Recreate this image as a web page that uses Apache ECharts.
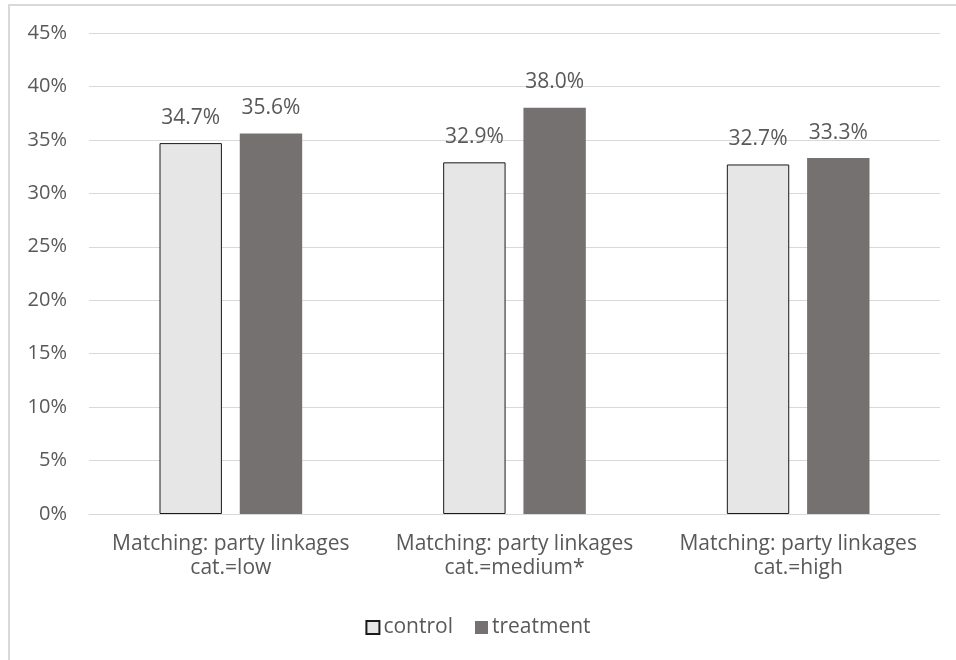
<!DOCTYPE html>
<html>
<head>
<meta charset="utf-8">
<script src="https://cdn.jsdelivr.net/npm/echarts@6/dist/echarts.min.js"></script>
<style>
  html, body { margin: 0; padding: 0; background: #fff; }
  #frame { position: absolute; left: 8px; top: 4px; width: 960px; height: 670px;
           border-left: 2px solid #d9d9d9; border-top: 2px solid #d9d9d9; box-sizing: border-box; }
  #chart { position: absolute; left: 0; top: 0; width: 956px; height: 660px; }
</style>
</head>
<body>
<div id="frame"></div>
<div id="chart"></div>
<script>
const categories = [
  'Matching: party linkages\ncat.=low',
  'Matching: party linkages\ncat.=medium*',
  'Matching: party linkages\ncat.=high'
];
const controlValues = [34.7, 32.9, 32.7];
const treatmentValues = [35.6, 38.0, 33.3];
const yTicks = { min: 0, max: 45, interval: 5 };

const FONT = '"Open Sans", sans-serif';
const TEXT = '#595959';
const FS = 21;

const chart = echarts.init(document.getElementById('chart'), null, { renderer: 'canvas' });
chart.setOption({
  backgroundColor: 'transparent',
  animation: false,
  textStyle: { fontFamily: FONT },
  grid: { left: 89, right: 16, top: 33, bottom: 146 },
  legend: {
    bottom: 17,
    left: 'center',
    itemWidth: 13,
    itemHeight: 13,
    itemGap: 22,
    icon: 'rect',
    textStyle: { fontFamily: FONT, fontSize: FS, color: TEXT, padding: [0, 0, 0, -1] },
    data: ['control', 'treatment']
  },
  xAxis: {
    type: 'category',
    data: categories,
    axisLine: { lineStyle: { color: '#d9d9d9', width: 1 } },
    axisTick: { show: false },
    axisLabel: { interval: 0, color: TEXT, fontSize: FS, lineHeight: 24, margin: 18, fontFamily: FONT }
  },
  yAxis: {
    type: 'value',
    min: yTicks.min,
    max: yTicks.max,
    interval: yTicks.interval,
    axisLine: { show: false },
    axisTick: { show: false },
    splitLine: { lineStyle: { color: '#d9d9d9', width: 1 } },
    axisLabel: { color: TEXT, fontSize: 20, margin: 22, formatter: v => v + '%', fontFamily: FONT }
  },
  series: [
    {
      name: 'control',
      type: 'bar',
      data: controlValues,
      barWidth: '22%',
      barGap: '28.6%',
      itemStyle: { color: '#e7e6e6', borderColor: '#1a1a1a', borderWidth: 1 },
      label: { show: true, position: 'top', distance: 15, color: TEXT, fontSize: FS,
               fontFamily: FONT, formatter: p => p.value.toFixed(1) + '%' }
    },
    {
      name: 'treatment',
      type: 'bar',
      data: treatmentValues,
      barWidth: '22%',
      itemStyle: { color: '#767171' },
      label: { show: true, position: 'top', distance: 15, color: TEXT, fontSize: FS,
               fontFamily: FONT, formatter: p => p.value.toFixed(1) + '%' }
    }
  ]
});
</script>
</body>
</html>
